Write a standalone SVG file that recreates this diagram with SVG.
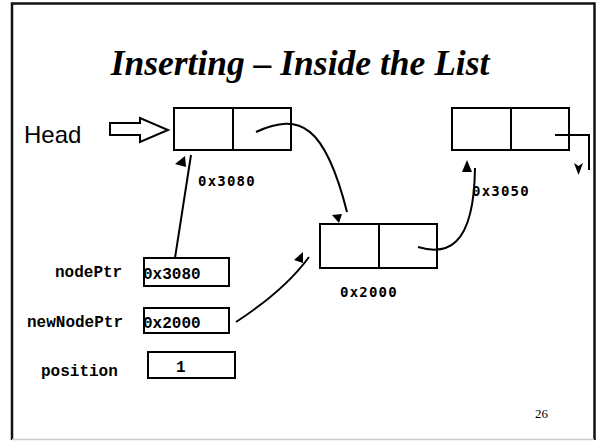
<svg xmlns="http://www.w3.org/2000/svg" width="598" height="441" viewBox="0 0 598 441">
<style>
.frame{stroke:#111;stroke-width:2.5;fill:none}
.box{fill:#fff;stroke:#000;stroke-width:2}
.conn{fill:none;stroke:#000;stroke-width:2}
.head{fill:#000;stroke:none}
.title{font-family:"Liberation Serif",serif;font-weight:bold;font-style:italic;font-size:35.5px;fill:#000}
.mono{font-family:"Liberation Mono",monospace;font-weight:bold;font-size:16px;fill:#000}
.addr{font-family:"DejaVu Sans Mono",monospace;font-weight:bold;font-size:14px;letter-spacing:1.2px;fill:#000}
.sans{font-family:"Liberation Sans",sans-serif;font-size:24px;fill:#000}
.num{font-family:"Liberation Serif",serif;font-size:13px;fill:#000}
</style>
<rect width="598" height="441" fill="#fff"/>
<path class="frame" d="M12,440 V3.5 H594.5 V440"/>
<line x1="12" y1="439.5" x2="594" y2="439.5" stroke="#ccc" stroke-width="1.5"/>
<text class="title" x="300" y="75" text-anchor="middle">Inserting – Inside the List</text>
<text class="num" x="535" y="418">26</text>

<g id="head">
<text class="sans" x="24" y="143">Head</text>
<polygon points="110,123 140,123 140,118 168,130 140,142 140,135 110,135" fill="#fff" stroke="#000" stroke-width="2"/>
</g>

<g id="node1">
<rect class="box" x="174" y="108" width="117" height="42"/>
<line x1="233" y1="108" x2="233" y2="150" stroke="#000" stroke-width="2"/>
<text class="addr" x="198" y="186">0x3080</text>
</g>

<g id="node3">
<rect class="box" x="452" y="108" width="117" height="42"/>
<line x1="511" y1="108" x2="511" y2="150" stroke="#000" stroke-width="2"/>
<text class="addr" x="472" y="196">0x3050</text>
</g>

<g id="node2">
<rect class="box" x="320" y="224" width="117" height="44"/>
<line x1="379" y1="224" x2="379" y2="268" stroke="#000" stroke-width="2"/>
<text class="addr" x="340" y="297">0x2000</text>
</g>

<g id="nodePtr">
<text class="mono" x="55" y="277">nodePtr</text>
<rect class="box" x="144" y="258" width="85" height="28"/>
<text class="mono" x="143" y="279">0x3080</text>
</g>

<g id="newNodePtr">
<text class="mono" x="27" y="327">newNodePtr</text>
<rect class="box" x="144" y="308" width="85" height="25"/>
<text class="mono" x="143" y="328">0x2000</text>
</g>

<g id="position">
<text class="mono" x="41" y="376">position</text>
<rect class="box" x="148" y="352" width="87" height="26"/>
<text class="mono" x="176" y="372">1</text>
</g>

<g id="connectors">
<path class="conn" d="M256,132 C300,112 325,125 347,212"/>
<polygon class="head" points="332,215 342,214 339,223"/>
<path class="conn" d="M175,258 L191,155"/>
<polygon class="head" points="185,156 175,164 186,167"/>
<path class="conn" d="M236,322 Q285,290 309,257"/>
<polygon class="head" points="303,252 294,260 303,263"/>
<path class="conn" d="M418,247 C445,255 474,250 475,168"/>
<polygon class="head" points="467,160 462,172 472,172"/>
<path class="conn" d="M555,135 H589 V170"/>
<polygon class="head" points="574,163 578.5,166 583,163 578.5,175"/>
</g>
</svg>
